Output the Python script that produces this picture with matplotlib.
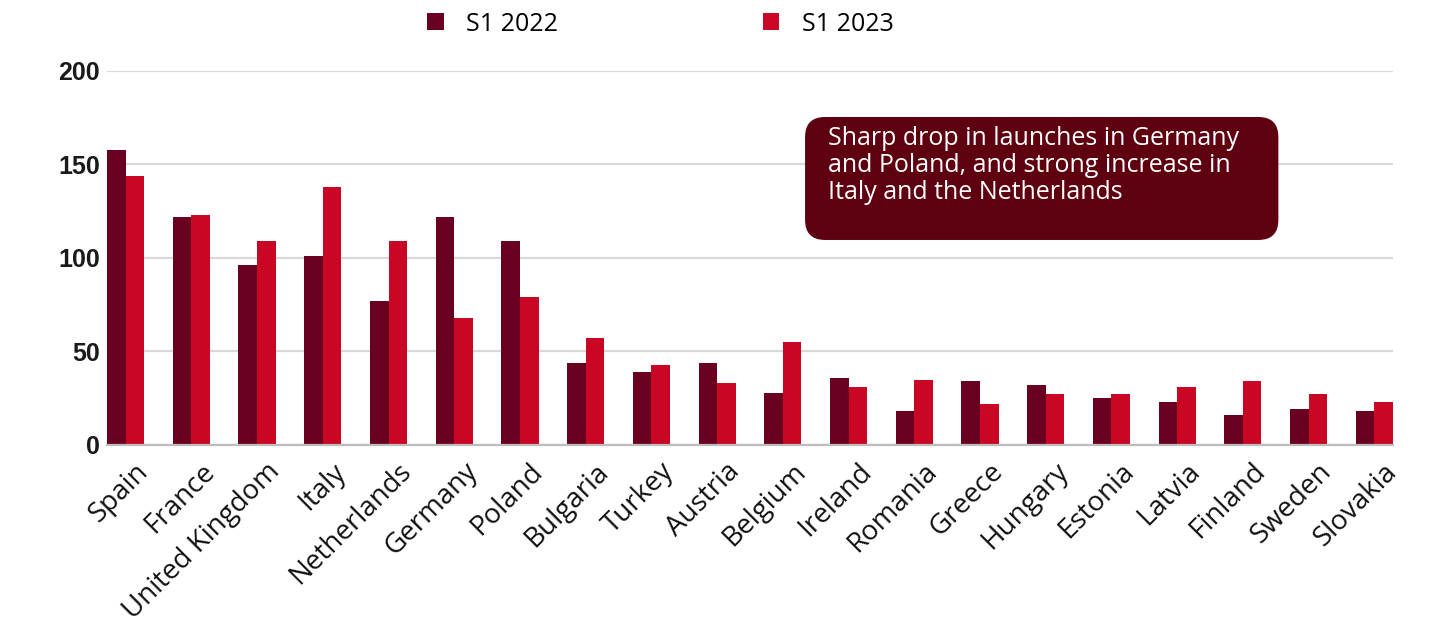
import matplotlib.pyplot as plt
import matplotlib.transforms as mtransforms
import numpy as np
from matplotlib.patches import FancyBboxPatch

# Launches by country, first semester
countries = ["Spain", "France", "United Kingdom", "Italy", "Netherlands", "Germany",
             "Poland", "Bulgaria", "Turkey", "Austria", "Belgium", "Ireland", "Romania",
             "Greece", "Hungary", "Estonia", "Latvia", "Finland", "Sweden", "Slovakia"]
s1_2022 = [158, 122, 96, 101, 77, 122, 109, 44, 39, 44, 28, 36, 18, 34, 32, 25, 23, 16, 19, 18]
s1_2023 = [144, 123, 109, 138, 109, 68, 79, 57, 43, 33, 55, 31, 35, 22, 27, 27, 31, 34, 27, 23]
series_labels = ["S1 2022", "S1 2023"]
y_ticks = [0, 50, 100, 150, 200]
note = ("Sharp drop in launches in Germany\n"
        "and Poland, and strong increase in\n"
        "Italy and the Netherlands")

dark = "#6a0020"
red = "#c90623"
box_col = "#5f0010"
label_font = ["Open Sans", "DejaVu Sans"]

fig = plt.figure(figsize=(14.33, 6.32), dpi=100)
ax = fig.add_axes([0.0747, 0.2959, 0.8973, 0.5918])

x = np.arange(len(countries))
w = 0.283
b1 = ax.bar(x - w / 2, s1_2022, w, color=dark, label=series_labels[0], zorder=3)
b2 = ax.bar(x + w / 2, s1_2023, w, color=red, label=series_labels[1], zorder=3)

ax.set_xlim(-w, len(countries) - 1 + w)
ax.set_ylim(0, 200)
ax.set_yticks(y_ticks)
ax.set_yticklabels([str(t) for t in y_ticks], fontsize=18, fontweight="bold",
                   family=["Liberation Sans", "DejaVu Sans"], color="#1a1a1a")
ax.tick_params(axis="y", length=0, pad=5)
ax.tick_params(axis="x", length=0, pad=4)
ax.grid(axis="y", color="#d9d9d9", linewidth=1.6, zorder=0)
for s in ["top", "right", "left"]:
    ax.spines[s].set_visible(False)
ax.spines["bottom"].set_color("#bdbdbd")
ax.spines["bottom"].set_linewidth(1.6)
ax.spines["bottom"].set_zorder(4)

ax.set_xticks(x)
ax.set_xticklabels(countries, rotation=45, ha="right", va="top", rotation_mode="anchor",
                   fontsize=20, family=label_font, color="#111111")
shift = mtransforms.ScaledTranslation(9 / 100, -7 / 100, fig.dpi_scale_trans)
for lab in ax.get_xticklabels():
    lab.set_transform(lab.get_transform() + shift)

# note box
box = FancyBboxPatch((0.5618, 0.6203), 0.3303, 0.1946, transform=fig.transFigure,
                     boxstyle="round,pad=0,rounding_size=0.014", facecolor=box_col,
                     edgecolor="none", mutation_aspect=1433 / 632)
fig.patches.append(box)
fig.text(0.5775, 0.8, note, color="white", fontsize=18, family=label_font,
         va="top", ha="left", linespacing=1.1)

fig.legend(handles=[b1, b2], labels=series_labels, loc="center", ncol=2,
           bbox_to_anchor=(0.461, 0.962), frameon=False,
           prop={"family": label_font, "size": 18}, handlelength=0.65, handleheight=0.65,
           columnspacing=8.2, handletextpad=0.9)

fig.savefig("out.png", dpi=100)
